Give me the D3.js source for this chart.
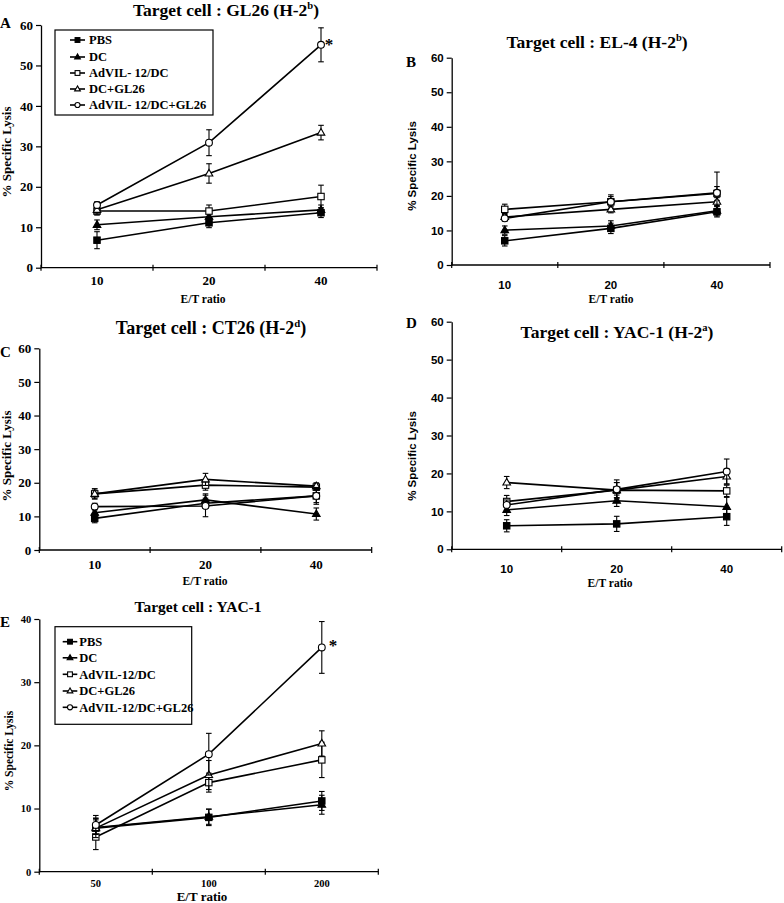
<!DOCTYPE html>
<html>
<head>
<meta charset="utf-8">
<script src="https://cdn.jsdelivr.net/npm/d3@7"></script>
<style>
  html, body { margin: 0; padding: 0; background: #fff; }
  svg { display: block; }
</style>
</head>
<body>
<script>
// ---------------- DATA ----------------
const seriesNames = ["PBS", "DC", "AdVIL-12/DC", "DC+GL26", "AdVIL-12/DC+GL26"];
const legendNamesA = ["PBS", "DC", "AdVIL- 12/DC", "DC+GL26", "AdVIL- 12/DC+GL26"];
const seriesMarkers = ["squareFilled", "triangleFilled", "squareOpen", "triangleOpen", "circleOpen"];

const ratiosABCD = ["10", "20", "40"];
const ratiosE = ["50", "100", "200"];
const yTicks60 = [0, 10, 20, 30, 40, 50, 60];
const yTicks40 = [0, 10, 20, 30, 40];

// Panel A: GL26
const gl26Values = [[6.8, 11.1, 13.6], [10.6, 12.6, 14.3], [14.0, 14.0, 17.6], [14.3, 23.3, 33.4], [15.5, 30.9, 55.1]];
const gl26Errors = [[2.1, 1.2, 1.2], [1.2, 1.0, 1.2], [1.0, 1.5, 2.8], [1.0, 2.4, 1.8], [0.8, 3.2, 4.2]];
// Panel B: EL-4
const el4Values = [[7.0, 10.6, 15.4], [10.1, 11.3, 15.7], [16.1, 18.3, 20.7], [13.9, 16.1, 18.3], [13.5, 18.3, 20.9]];
const el4Errors = [[1.5, 1.5, 1.5], [1.2, 1.5, 1.5], [1.5, 2.0, 2.0], [1.0, 1.0, 1.2], [0.8, 1.5, 6.0]];
// Panel C: CT26
const ct26Values = [[9.4, 13.9, 16.1], [11.1, 14.9, 10.7], [16.7, 19.3, 18.7], [16.7, 21.0, 19.0], [12.9, 13.1, 16.1]];
const ct26Errors = [[1.3, 1.5, 2.0], [1.5, 1.8, 1.8], [1.5, 1.5, 1.0], [1.5, 1.8, 1.0], [1.0, 3.2, 2.5]];
// Panel D: YAC-1 (H-2a)
const yacDValues = [[6.2, 6.7, 8.6], [10.4, 12.8, 11.2], [12.6, 15.6, 15.4], [17.6, 15.6, 19.2], [11.7, 15.8, 20.5]];
const yacDErrors = [[1.6, 2.0, 2.3], [1.5, 1.5, 2.5], [1.6, 2.0, 1.5], [1.6, 2.0, 2.0], [1.3, 2.5, 3.3]];
// Panel E: YAC-1
const yacEValues = [[6.9, 8.6, 11.2], [7.0, 8.7, 10.6], [5.5, 14.1, 17.7], [6.9, 15.3, 20.3], [7.4, 18.6, 35.5]];
const yacEErrors = [[1.3, 1.3, 1.5], [1.5, 1.2, 1.5], [2.0, 1.5, 2.8], [1.5, 2.3, 2.0], [1.5, 3.3, 4.1]];

// ---------------- LAYOUT ----------------
const SERIF = "'Liberation Serif','Times New Roman',serif";
const SANS = "'Liberation Sans',Arial,sans-serif";

const panels = [
  { letter: "A", title: ["Target cell : GL26 (H-2", "b", ")"], cats: ratiosABCD, yTicks: yTicks60, ymax: 60,
    values: gl26Values, errors: gl26Errors,
    x0: 41, x1: 377, yTop: 25, yBot: 267.7, tickFont: SERIF, tickSize: 13,
    titleX: 226, titleY: 16, titleSize: 17.5, letterX: 0, letterY: 28,
    xlabBase: 285, etX: 203, etY: 303, etSize: 11.5,
    ylabX: 11, ylabY: 152, ylabFont: SERIF, ylabSize: 13,
    legend: { x: 55, y: 30, w: 158, h: 85, rows: [40, 57, 73, 89, 105], lx0: 70, lx1: 85, tx: 89, names: legendNamesA },
    star: [329, 50] },
  { letter: "B", title: ["Target cell : EL-4 (H-2", "b", ")"], cats: ratiosABCD, yTicks: yTicks60, ymax: 60,
    values: el4Values, errors: el4Errors,
    x0: 451.7, x1: 770, yTop: 57.7, yBot: 265, tickFont: SANS, tickSize: 11.5,
    titleX: 597, titleY: 48, titleSize: 17.5, letterX: 406, letterY: 67,
    xlabBase: 289, etX: 611, etY: 303, etSize: 11.5,
    ylabX: 416, ylabY: 166, ylabFont: SANS, ylabSize: 11.5 },
  { letter: "C", title: ["Target cell : CT26 (H-2", "d", ")"], cats: ratiosABCD, yTicks: yTicks60, ymax: 60,
    values: ct26Values, errors: ct26Errors,
    x0: 39.3, x1: 371.7, yTop: 348.3, yBot: 550, tickFont: SERIF, tickSize: 13,
    titleX: 211, titleY: 334, titleSize: 18, letterX: 0, letterY: 357,
    xlabBase: 569, etX: 205, etY: 585, etSize: 11.5,
    ylabX: 11, ylabY: 456, ylabFont: SERIF, ylabSize: 13 },
  { letter: "D", title: ["Target cell : YAC-1 (H-2", "a", ")"], cats: ratiosABCD, yTicks: yTicks60, ymax: 60,
    values: yacDValues, errors: yacDErrors,
    x0: 451.7, x1: 781.7, yTop: 321.7, yBot: 549.3, tickFont: SANS, tickSize: 11.5,
    titleX: 617, titleY: 338, titleSize: 17.5, letterX: 406, letterY: 328,
    xlabBase: 573, etX: 610, etY: 587, etSize: 11.5,
    ylabX: 416, ylabY: 456, ylabFont: SANS, ylabSize: 11.5 },
  { letter: "E", title: ["Target cell : YAC-1"], cats: ratiosE, yTicks: yTicks40, ymax: 40,
    values: yacEValues, errors: yacEErrors,
    x0: 39.3, x1: 378.3, yTop: 619, yBot: 871.7, tickFont: SERIF, tickSize: 10.5,
    titleX: 198, titleY: 612, titleSize: 15.5, letterX: 0, letterY: 627,
    xlabBase: 886.5, etX: 202, etY: 901, etSize: 13,
    ylabX: 13, ylabY: 751, ylabFont: SERIF, ylabSize: 11.5,
    legend: { x: 55, y: 626.7, w: 136.7, h: 97.6, rows: [641.7, 657.8, 674.3, 691, 707.3], lx0: 62.7, lx1: 77.3, tx: 79.3, names: seriesNames },
    star: [333, 651] }
];

// ---------------- DRAW ----------------
const svg = d3.select("body").append("svg").attr("width", 784).attr("height", 903)
  .style("background", "#fff");

function drawMarker(g, type, cx, cy, s) {
  s = s || 1;
  if (type === "squareFilled" || type === "squareOpen") {
    const a = 6.4 * s;
    g.append("rect").attr("x", cx - a / 2).attr("y", cy - a / 2).attr("width", a).attr("height", a)
      .attr("fill", type === "squareFilled" ? "#000" : "#fff").attr("stroke", "#000").attr("stroke-width", 1.1);
  } else if (type === "triangleFilled" || type === "triangleOpen") {
    const a = 7.6 * s, h = a * 0.87;
    const pts = [[cx, cy - h * 0.62], [cx - a / 2, cy + h * 0.38], [cx + a / 2, cy + h * 0.38]];
    g.append("path").attr("d", d3.line()(pts) + "Z")
      .attr("fill", type === "triangleFilled" ? "#000" : "#fff").attr("stroke", "#000").attr("stroke-width", 1.1);
  } else {
    g.append("circle").attr("cx", cx).attr("cy", cy).attr("r", 3.4 * s)
      .attr("fill", "#fff").attr("stroke", "#000").attr("stroke-width", 1.1);
  }
}

panels.forEach(p => {
  const g = svg.append("g");
  const x = d3.scaleBand().domain(p.cats).range([p.x0, p.x1]);
  const y = d3.scaleLinear().domain([0, p.ymax]).range([p.yBot, p.yTop]);
  const cx = c => x(c) + x.bandwidth() / 2;

  // Y axis
  const yAx = g.append("g").attr("transform", `translate(${p.x0},0)`)
    .call(d3.axisLeft(y).tickValues(p.yTicks).tickSize(5).tickSizeOuter(0).tickPadding(3));
  yAx.select(".domain").attr("stroke", "#000").attr("stroke-width", 1.3);
  yAx.selectAll(".tick line").attr("stroke", "#000").attr("stroke-width", 1.2);
  yAx.selectAll(".tick text").attr("font-family", p.tickFont).attr("font-weight", "bold")
    .attr("font-size", p.tickSize).attr("fill", "#000");

  // X axis (category axis with ticks at band boundaries)
  g.append("line").attr("x1", p.x0).attr("x2", p.x1).attr("y1", p.yBot).attr("y2", p.yBot)
    .attr("stroke", "#000").attr("stroke-width", 1.3);
  const bounds = p.cats.map(c => x(c)).concat([x(p.cats[p.cats.length - 1]) + x.bandwidth()]);
  bounds.forEach(bx => {
    g.append("line").attr("x1", bx).attr("x2", bx).attr("y1", p.yBot - 3).attr("y2", p.yBot + 3)
      .attr("stroke", "#000").attr("stroke-width", 1.2);
  });
  g.selectAll(".xlab").data(p.cats).enter().append("text")
    .attr("x", d => cx(d)).attr("y", p.xlabBase).attr("text-anchor", "middle")
    .attr("font-family", p.tickFont).attr("font-weight", "bold").attr("font-size", p.tickSize)
    .text(d => d);

  // Axis titles
  g.append("text").attr("x", p.etX).attr("y", p.etY).attr("text-anchor", "middle")
    .attr("font-family", SERIF).attr("font-weight", "bold").attr("font-size", p.etSize).text("E/T ratio");
  g.append("text").attr("transform", `translate(${p.ylabX},${p.ylabY}) rotate(-90)`).attr("text-anchor", "middle")
    .attr("font-family", p.ylabFont).attr("font-weight", "bold").attr("font-size", p.ylabSize).text("% Specific Lysis");

  // Title
  const t = g.append("text").attr("x", p.titleX).attr("y", p.titleY).attr("text-anchor", "middle")
    .attr("font-family", SERIF).attr("font-weight", "bold").attr("font-size", p.titleSize);
  t.append("tspan").text(p.title[0]);
  if (p.title.length > 1) {
    t.append("tspan").attr("font-size", p.titleSize * 0.6).attr("dy", -7).text(p.title[1]);
    t.append("tspan").attr("dy", 7).text(p.title[2]);
  }
  // Panel letter
  g.append("text").attr("x", p.letterX).attr("y", p.letterY)
    .attr("font-family", SERIF).attr("font-weight", "bold").attr("font-size", 15).text(p.letter);

  // Series
  const line = d3.line().x((d, i) => cx(p.cats[i])).y(d => y(d));
  p.values.forEach((vals, si) => {
    const sg = g.append("g");
    vals.forEach((v, i) => {
      const e = p.errors[si][i];
      const xx = cx(p.cats[i]);
      sg.append("line").attr("x1", xx).attr("x2", xx).attr("y1", y(v - e)).attr("y2", y(v + e))
        .attr("stroke", "#000").attr("stroke-width", 1.1);
      [v - e, v + e].forEach(b => {
        sg.append("line").attr("x1", xx - 2.8).attr("x2", xx + 2.8).attr("y1", y(b)).attr("y2", y(b))
          .attr("stroke", "#000").attr("stroke-width", 1.1);
      });
    });
    sg.append("path").attr("d", line(vals)).attr("fill", "none").attr("stroke", "#000").attr("stroke-width", 1.6);
    vals.forEach((v, i) => drawMarker(sg, seriesMarkers[si], cx(p.cats[i]), y(v)));
  });

  // Legend
  if (p.legend) {
    const L = p.legend;
    g.append("rect").attr("x", L.x).attr("y", L.y).attr("width", L.w).attr("height", L.h)
      .attr("fill", "#fff").attr("stroke", "#000").attr("stroke-width", 1.2);
    L.names.forEach((name, i) => {
      const ry = L.rows[i];
      g.append("line").attr("x1", L.lx0).attr("x2", L.lx1).attr("y1", ry).attr("y2", ry)
        .attr("stroke", "#000").attr("stroke-width", 1.6);
      drawMarker(g, seriesMarkers[i], (L.lx0 + L.lx1) / 2, ry, 0.75);
      g.append("text").attr("x", L.tx).attr("y", ry + 4.3)
        .attr("font-family", SERIF).attr("font-weight", "bold").attr("font-size", 12.5).text(name);
    });
  }

  // Significance star
  if (p.star) {
    g.append("text").attr("x", p.star[0]).attr("y", p.star[1]).attr("text-anchor", "middle")
      .attr("font-family", SERIF).attr("font-weight", "bold").attr("font-size", 17).text("*");
  }
});
</script>
</body>
</html>
